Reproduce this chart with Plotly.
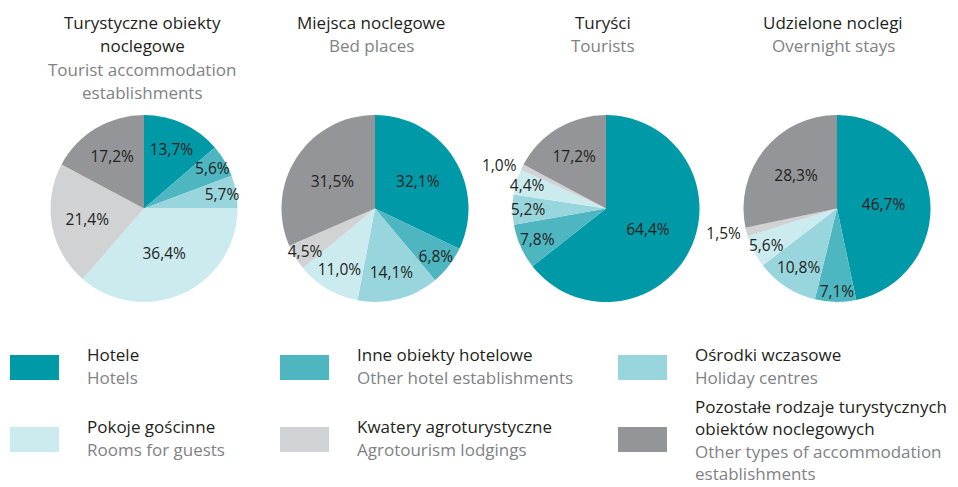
import plotly.graph_objects as go

W, H = 958, 487
FONT = "Open Sans, sans-serif"
INK, GREY = "#231f20", "#808285"

categories_pl = ["Hotele", "Inne obiekty hotelowe", "Ośrodki wczasowe",
                 "Pokoje gościnne", "Kwatery agroturystyczne",
                 "Pozostałe rodzaje turystycznych<br>obiektów noclegowych"]
categories_en = ["Hotels", "Other hotel establishments", "Holiday centres",
                 "Rooms for guests", "Agrotourism lodgings",
                 "Other types of accommodation<br>establishments"]
colors = ["#0099a8", "#4db6c1", "#99d5dd", "#cbebef", "#d1d2d4", "#939598"]

titles_pl = ["Turystyczne obiekty<br>noclegowe", "Miejsca noclegowe", "Turyści", "Udzielone noclegi"]
titles_en = ["Tourist accommodation<br>establishments", "Bed places", "Tourists", "Overnight stays"]

establishments = [13.7, 5.6, 5.7, 36.4, 21.4, 17.2]
bed_places = [32.1, 6.8, 14.1, 11.0, 4.5, 31.5]
tourists = [64.4, 7.8, 5.2, 4.4, 1.0, 17.2]
overnight_stays = [46.7, 7.1, 10.8, 5.6, 1.5, 28.3]
series = [establishments, bed_places, tourists, overnight_stays]

# pixel geometry of each pie: centre x, centre y, radius
centres = [144, 375, 606, 837]
title_x = [142, 371, 603, 833]
CY, R = 208.5, 93.5
LINE = 23.5  # text line spacing in px


def px_x(x):
    return x / W


def px_y(y):
    return 1 - y / H


def text_block(ann, x, y_first, lines, color, anchor, step=LINE):
    # one annotation per line so the spacing matches the reference
    for k, line in enumerate(lines):
        ann.append(dict(x=px_x(x), y=px_y(y_first + step * k), text=line, showarrow=False,
                        xanchor=anchor, yanchor="middle",
                        font=dict(family=FONT, size=17, color=color)))
    return y_first + step * len(lines)


fig = go.Figure()
for vals, cx in zip(series, centres):
    pos = ["outside" if v < 2 else "inside" for v in vals]
    fig.add_trace(go.Pie(
        values=vals, labels=[c.replace("<br>", " ") for c in categories_en], sort=False,
        direction="clockwise", rotation=0, marker=dict(colors=colors, line=dict(width=0)),
        text=[f"{v:.1f}%".replace(".", ",") for v in vals], textinfo="text",
        textposition=pos, insidetextorientation="horizontal",
        textfont=dict(family=FONT, size=15.5, color=INK),
        hoverinfo="label+text", showlegend=False,
        domain=dict(x=[px_x(cx - R), px_x(cx + R)], y=[px_y(CY + R), px_y(CY - R)])))

ann = []
for tp, te, tx in zip(titles_pl, titles_en, title_x):
    y = text_block(ann, tx, 22, tp.split("<br>"), INK, "center")
    text_block(ann, tx, y, te.split("<br>"), GREY, "center")

# legend: 3 columns x 2 rows, coloured square + Polish / English label
shapes = []
sq_x = [10, 280, 618]
sq_y = [355, 427]
for i, (pl, en, c) in enumerate(zip(categories_pl, categories_en, colors)):
    col, row = i % 3, i // 3
    x0, y0 = sq_x[col], sq_y[row]
    shapes.append(dict(type="rect", xref="paper", yref="paper", x0=px_x(x0), x1=px_x(x0 + 49),
                       y0=px_y(y0 + 25), y1=px_y(y0), fillcolor=c, line=dict(width=0)))
    pl_lines, en_lines = pl.split("<br>"), en.split("<br>")
    if len(pl_lines) == 1:
        y = text_block(ann, x0 + 75, y0 - 1, pl_lines, INK, "left")
        text_block(ann, x0 + 75, y, en_lines, GREY, "left")
    else:
        # four-line entry: slightly tighter so it stays inside the picture
        y = text_block(ann, x0 + 75, y0 - 21, pl_lines, INK, "left", step=22.5)
        text_block(ann, x0 + 75, y, en_lines, GREY, "left", step=22.5)

fig.update_layout(width=W, height=H, margin=dict(l=0, r=0, t=0, b=0),
                  paper_bgcolor="white", plot_bgcolor="white",
                  uniformtext=dict(minsize=15.5, mode="show"),
                  annotations=ann, shapes=shapes)
fig.write_html("out.html", config={"displayModeBar": False},
               post_script="document.body.style.margin='0';")
